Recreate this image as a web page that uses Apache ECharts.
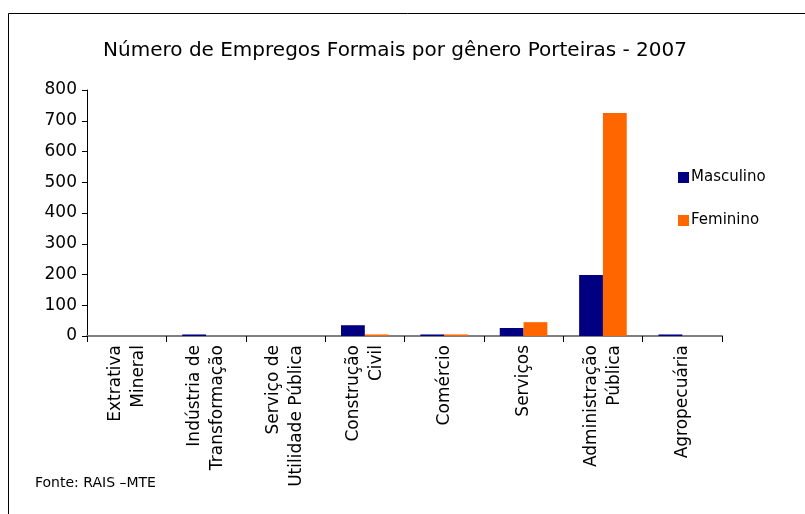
<!DOCTYPE html>
<html>
<head>
<meta charset="utf-8">
<script src="https://cdn.jsdelivr.net/npm/echarts@6/dist/echarts.min.js"></script>
<style>
  html, body { margin: 0; padding: 0; background: #fff; }
  #chart { width: 805px; height: 514px; }
</style>
</head>
<body>
<div id="chart"></div>
<script>
const categories = [
    "Extrativa\nMineral",
    "Indústria de\nTransformação",
    "Serviço de\nUtilidade Pública",
    "Construção\nCivil",
    "Comércio",
    "Serviços",
    "Administração\nPública",
    "Agropecuária"
]
const masculino = [0, 5, 0, 35, 5, 26, 198, 5]
const feminino = [0, 0, 0, 5, 5, 45, 725, 0]
const yTicks = {min: 0, max: 800, interval: 100}

const chart = echarts.init(document.getElementById("chart"))
chart.setOption({
    animation: false,
    textStyle: {fontFamily: "DejaVu Sans, sans-serif"},
    title: {
        text: "Número de Empregos Formais por gênero Porteiras - 2007",
        left: 390,
        textAlign: "center",
        top: 36,
        textStyle: {fontSize: 20, fontWeight: "normal", color: "#000", fontFamily: "DejaVu Sans"}
    },
    legend: {
        orient: "vertical",
        left: 673,
        top: 165,
        itemWidth: 11,
        itemHeight: 11,
        itemGap: 28,
        icon: "rect",
        textStyle: {fontSize: 15, color: "#000", padding: [0, 0, 0, -3]},
        data: ["Masculino", "Feminino"]
    },
    grid: {left: 87, right: 83, top: 90, bottom: 178, containLabel: false},
    xAxis: {
        type: "category",
        data: categories,
        axisLine: {lineStyle: {color: "#808080", width: 2}},
        axisTick: {show: true, length: 6, lineStyle: {color: "#000"}},
        axisLabel: {
            rotate: 90,
            interval: 0,
            fontSize: 17,
            color: "#000",
            margin: 9,
            lineHeight: 23
        }
    },
    yAxis: {
        type: "value",
        min: yTicks.min,
        max: yTicks.max,
        interval: yTicks.interval,
        splitLine: {show: false},
        axisLine: {show: true, lineStyle: {color: "#000", width: 1}},
        axisTick: {show: true, length: 5, lineStyle: {color: "#000"}},
        axisLabel: {fontSize: 17, color: "#000", margin: 10}
    },
    series: [
        {
            name: "Masculino",
            type: "bar",
            data: masculino,
            barGap: "0%",
            barCategoryGap: "40%",
            itemStyle: {color: "#000080"}
        },
        {
            name: "Feminino",
            type: "bar",
            data: feminino,
            itemStyle: {color: "#FF6600"}
        }
    ],
    graphic: [
        {
            type: "rect",
            shape: {x: 8.5, y: 13.5, width: 900, height: 600},
            style: {fill: null, stroke: "#000", lineWidth: 1},
            silent: true
        },
        {
            type: "text",
            left: 35,
            top: 476,
            style: {text: "Fonte: RAIS –MTE", fontSize: 14, fill: "#000", fontFamily: "DejaVu Sans"}
        }
    ]
})
</script>
</body>
</html>
